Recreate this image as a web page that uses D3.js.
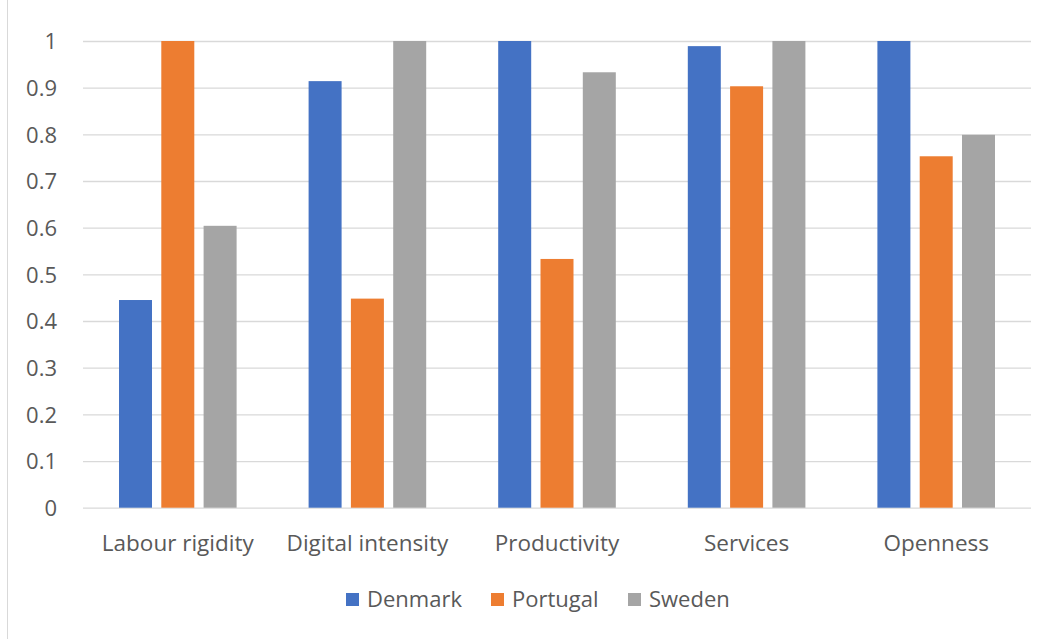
<!DOCTYPE html>
<html><head><meta charset="utf-8">
<script src="https://cdn.jsdelivr.net/npm/d3@7"></script>
<style>body{margin:0;background:#fff;} svg{display:block;} text{font-family:"Open Sans","Noto Sans",sans-serif;fill:#595959;}</style>
</head><body>
<svg id="chart" width="1048" height="639"></svg>
<script>
const categories = ["Labour rigidity","Digital intensity","Productivity","Services","Openness"];
const seriesNames = ["Denmark","Portugal","Sweden"];
const denmark = [0.445, 0.914, 1.0, 0.989, 1.0];
const portugal = [1.0, 0.448, 0.533, 0.903, 0.753];
const sweden = [0.604, 1.0, 0.933, 1.0, 0.799];
const yTicks = [0,0.1,0.2,0.3,0.4,0.5,0.6,0.7,0.8,0.9,1];
const colors = ["#4472C4","#ED7D31","#A5A5A5"];

const values = [denmark, portugal, sweden];
const svg = d3.select("#chart");
const W = 1048, H = 639;
const m = {left:83, right:1031, top:41, bottom:507.7};

svg.append("line").attr("x1",7.5).attr("x2",7.5).attr("y1",0).attr("y2",H)
  .attr("stroke","#d9d9d9").attr("stroke-width",1);

const x = d3.scaleBand().domain(categories).range([m.left, m.right]).paddingInner(0).paddingOuter(0);
const bw = x.bandwidth(), gw = 117.6;
const xs = d3.scaleBand().domain(seriesNames).range([(bw-gw)/2, (bw+gw)/2]).paddingInner(0.22).paddingOuter(0);
const y = d3.scaleLinear().domain([0,1]).range([m.bottom, m.top]);

const yAxis = d3.axisLeft(y).tickValues(yTicks).tickSize(-(m.right-m.left)).tickFormat(d3.format("~g"));
const gy = svg.append("g").attr("transform",`translate(${m.left},0)`).call(yAxis);
gy.select(".domain").remove();
gy.selectAll(".tick line").attr("stroke","#d9d9d9").attr("stroke-width",1.3);
gy.selectAll(".tick text").attr("x",-26).attr("dy","0.35em").style("font-size","22px").style("fill","#595959");

const groups = svg.append("g").selectAll("g").data(categories).join("g")
  .attr("transform", d => `translate(${x(d)},0)`);
groups.selectAll("rect").data((c,i) => seriesNames.map((s,j) => ({s, v: values[j][i], j})))
  .join("rect")
  .attr("x", d => xs(d.s)).attr("width", xs.bandwidth())
  .attr("y", d => y(d.v)).attr("height", d => y(0) - y(d.v))
  .attr("fill", d => colors[d.j]);

const xAxis = d3.axisBottom(x).tickSize(0).tickPadding(0);
const gx = svg.append("g").attr("transform",`translate(0,${m.bottom})`).call(xAxis);
gx.select(".domain").remove();
gx.selectAll(".tick text").attr("y",35).attr("dy","0.35em").style("font-size","22.5px").style("fill","#595959");

const legendX = [346, 491, 628];
const lg = svg.append("g").selectAll("g").data(seriesNames).join("g")
  .attr("transform",(d,i)=>`translate(${legendX[i]},593)`);
lg.append("rect").attr("width",13).attr("height",13).attr("fill",(d,i)=>colors[i]);
lg.append("text").attr("x",21).attr("y",6.5).attr("dy","0.35em").style("font-size","22px").text(d=>d);
</script>
</body></html>
